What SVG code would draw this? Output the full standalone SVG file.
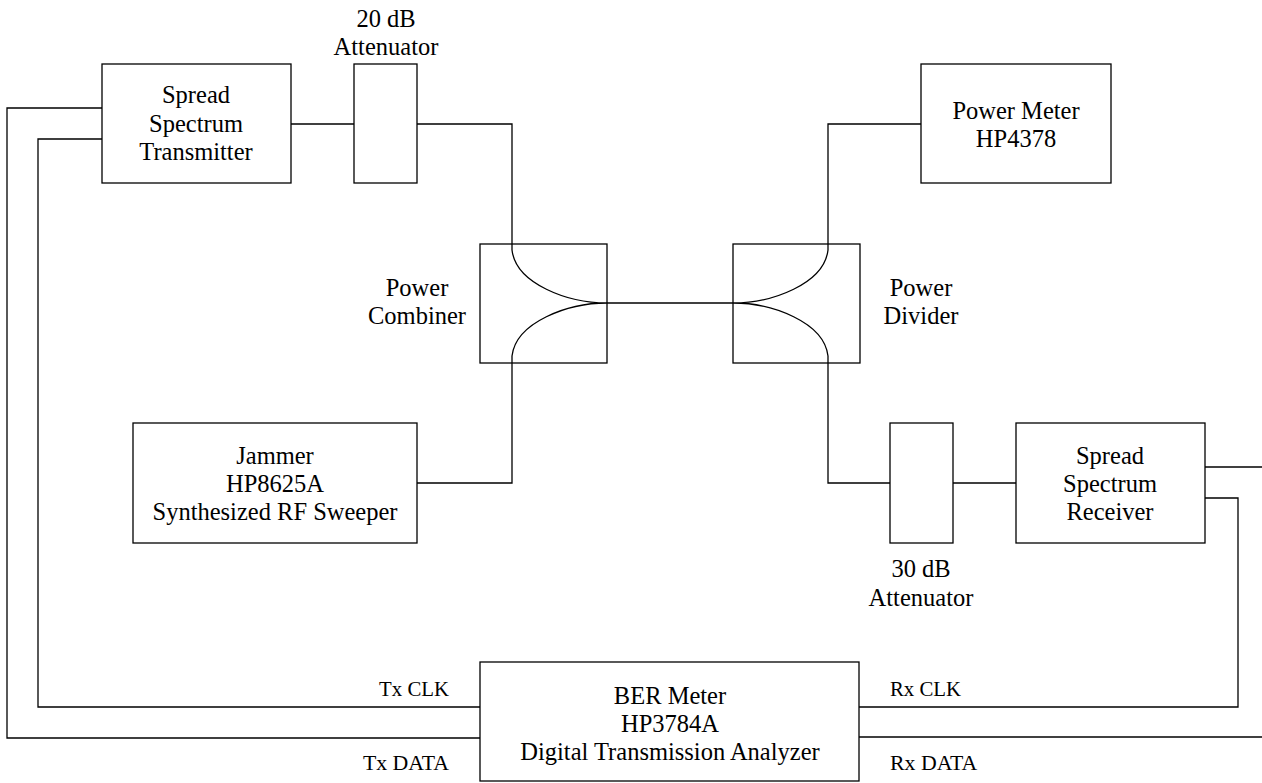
<svg xmlns="http://www.w3.org/2000/svg" width="1262" height="783" viewBox="0 0 1262 783">
<style>
rect{fill:#fff;stroke:#000;stroke-width:1.3}
path{fill:none;stroke:#000;stroke-width:1.3}
text{font-family:"Liberation Serif","Times New Roman",serif;font-size:24.5px;fill:#000;text-anchor:middle}
text.s{font-size:20.8px}
text.d{font-size:21.8px}
text.e{text-anchor:end}
text.b{text-anchor:start}
</style>
<rect width="1262" height="783" style="fill:#fff;stroke:none"/>
<g id="connectors">
<path d="M102 108H7V738H480"/>
<path d="M102 139H38V707H480"/>
<path d="M291 124H354"/>
<path d="M417 124H512V244"/>
<path d="M417 483H512V362"/>
<path d="M921 124H828V244"/>
<path d="M828 362V483H890"/>
<path d="M953 483H1016"/>
<path d="M1205 467H1262"/>
<path d="M1205 498H1238V707H859"/>
<path d="M859 737H1262"/>
<path d="M607 303H733"/>
</g>
<g id="spread-tx"><rect x="102" y="64" width="189" height="119"/><text x="196" y="103">Spread</text><text x="196" y="132">Spectrum</text><text x="196" y="160">Transmitter</text></g>
<g id="att20"><rect x="354" y="64" width="63" height="119"/><text x="386" y="27">20 dB</text><text x="386" y="55">Attenuator</text></g>
<g id="power-meter"><rect x="921" y="64" width="190" height="119"/><text x="1016" y="119">Power Meter</text><text x="1016" y="147">HP4378</text></g>
<g id="combiner"><rect x="480" y="244" width="127" height="119"/><path d="M512 244V250C516 284 568 303 607 303C568 303 516 322 512 356V363"/><text x="417" y="296">Power</text><text x="417" y="324">Combiner</text></g>
<g id="divider"><rect x="733" y="244" width="127" height="119"/><path d="M828 244V250C824 284 772 303 733 303C772 303 824 322 828 356V363"/><text x="921" y="296">Power</text><text x="921" y="324">Divider</text></g>
<g id="jammer"><rect x="133" y="423" width="284" height="120"/><text x="275" y="464">Jammer</text><text x="275" y="492">HP8625A</text><text x="275" y="520">Synthesized RF Sweeper</text></g>
<g id="att30"><rect x="890" y="423" width="63" height="120"/><text x="921" y="577">30 dB</text><text x="921" y="606">Attenuator</text></g>
<g id="spread-rx"><rect x="1016" y="423" width="189" height="120"/><text x="1110" y="464">Spread</text><text x="1110" y="492">Spectrum</text><text x="1110" y="520">Receiver</text></g>
<g id="ber"><rect x="480" y="662" width="379" height="119"/><text x="670" y="704">BER Meter</text><text x="670" y="732">HP3784A</text><text x="670" y="760">Digital Transmission Analyzer</text></g>
<g id="labels"><text class="s e" x="449" y="696">Tx CLK</text><text class="d e" x="449" y="770">Tx DATA</text><text class="s b" x="890" y="696">Rx CLK</text><text class="d b" x="890" y="770">Rx DATA</text></g>
</svg>
